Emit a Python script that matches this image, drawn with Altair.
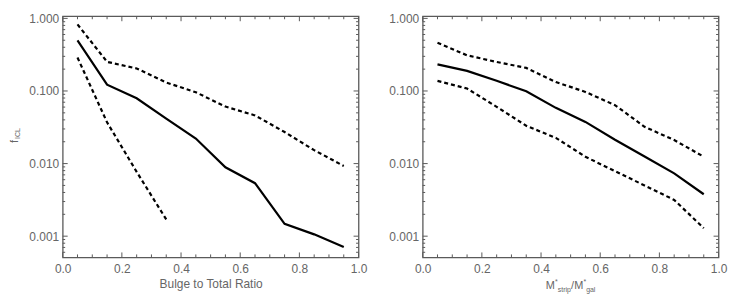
import altair as alt
import pandas as pd

# ---- data ----
x_bins = [0.05, 0.15, 0.25, 0.35, 0.45, 0.55, 0.65, 0.75, 0.85, 0.95]

# Left panel: f_ICL vs bulge-to-total ratio
left_median = [0.499, 0.122, 0.0794, 0.0415, 0.0221, 0.0089, 0.00537, 0.00148, 0.00106, 0.00071]
left_upper = [0.826, 0.252, 0.204, 0.131, 0.096, 0.061, 0.0461, 0.0272, 0.0153, 0.00927]
left_lower_x = [0.05, 0.15, 0.25, 0.35]
left_lower = [0.289, 0.037, 0.0077, 0.0017]

# Right panel: f_ICL vs M*strip/M*gal
right_median = [0.233, 0.189, 0.138, 0.0994, 0.0586, 0.0375, 0.0213, 0.0125, 0.00733, 0.00378]
right_upper = [0.462, 0.31, 0.251, 0.208, 0.133, 0.097, 0.0638, 0.0321, 0.0211, 0.01244]
right_lower = [0.138, 0.108, 0.0605, 0.0332, 0.0226, 0.0124, 0.00787, 0.00499, 0.00316, 0.00129]

# axis ticks
x_major = [0.0, 0.2, 0.4, 0.6, 0.8, 1.0]
x_minor = [0.05, 0.1, 0.15, 0.25, 0.3, 0.35, 0.45, 0.5, 0.55, 0.65, 0.7, 0.75,
           0.85, 0.9, 0.95]
y_major = [0.001, 0.01, 0.1, 1.0]
y_minor = [0.0006, 0.0007, 0.0008, 0.0009,
           0.002, 0.003, 0.004, 0.005, 0.006, 0.007, 0.008, 0.009,
           0.02, 0.03, 0.04, 0.05, 0.06, 0.07, 0.08, 0.09,
           0.2, 0.3, 0.4, 0.5, 0.6, 0.7, 0.8, 0.9]

W = 297.5
H = 242.5
GRAY = "#5a5a5a"
TXT = "#666666"
FONT = "Liberation Sans"

xscale = alt.Scale(domain=[0, 1], nice=False, zero=False)
yscale = alt.Scale(type="log", domain=[0.00051, 1.07], nice=False)


def xaxis(title=None):
    kw = dict(values=x_major, format=".1f", ticks=False, domain=False, grid=False,
              labelFont=FONT, labelFontSize=12, labelColor=TXT, labelPadding=6,
              labelFlush=False)
    if title:
        kw.update(title=title, titleFont=FONT, titleFontSize=12, titleColor=TXT,
                  titleFontWeight="normal", titlePadding=4)
    else:
        kw.update(title=None)
    return alt.Axis(**kw)


yaxis = alt.Axis(values=y_major, format=".3f", ticks=False, domain=False, grid=False,
                 labelFont=FONT, labelFontSize=12, labelColor=TXT, labelPadding=4,
                 title=None, labelFlush=False)


def panel(median, upper, lower_x, lower, xtitle):
    med_df = pd.DataFrame({"x": x_bins, "y": median})
    dash_df = pd.concat([
        pd.DataFrame({"x": x_bins, "y": upper, "s": "upper"}),
        pd.DataFrame({"x": lower_x, "y": lower, "s": "lower"}),
    ])
    solid = alt.Chart(med_df).mark_line(color="black", strokeWidth=2.2).encode(
        x=alt.X("x:Q", scale=xscale, axis=xaxis(xtitle)),
        y=alt.Y("y:Q", scale=yscale, axis=yaxis),
    )
    dashed = alt.Chart(dash_df).mark_line(color="black", strokeWidth=2.2,
                                           strokeDash=[4, 3]).encode(
        x=alt.X("x:Q", scale=xscale),
        y=alt.Y("y:Q", scale=yscale),
        detail="s:N",
    )
    layers = [solid, dashed]
    for vals, ln in ((x_major, 5), (x_minor, 3)):
        d = pd.DataFrame({"t": vals})
        layers.append(alt.Chart(d).mark_rule(color=GRAY, strokeWidth=1).encode(
            x=alt.X("t:Q", scale=xscale), y=alt.value(H), y2=alt.value(H - ln)))
        layers.append(alt.Chart(d).mark_rule(color=GRAY, strokeWidth=1).encode(
            x=alt.X("t:Q", scale=xscale), y=alt.value(0), y2=alt.value(ln)))
    for vals, ln in ((y_major, 5), (y_minor, 2.5)):
        d = pd.DataFrame({"t": vals})
        layers.append(alt.Chart(d).mark_rule(color=GRAY, strokeWidth=1).encode(
            y=alt.Y("t:Q", scale=yscale), x=alt.value(0), x2=alt.value(ln)))
        layers.append(alt.Chart(d).mark_rule(color=GRAY, strokeWidth=1).encode(
            y=alt.Y("t:Q", scale=yscale), x=alt.value(W), x2=alt.value(W - ln)))
    return layers


# left panel
left_layers = panel(left_median, left_upper, left_lower_x, left_lower,
                    "Bulge to Total Ratio")
ylab = pd.DataFrame({"a": [0]})
left_layers.append(alt.Chart(ylab).mark_text(
    text="f", font=FONT, fontSize=11, color=TXT, angle=270, align="center",
    baseline="middle").encode(x=alt.value(-48), y=alt.value(126)))
left_layers.append(alt.Chart(ylab).mark_text(
    text="ICL", font=FONT, fontSize=7, color=TXT, angle=270, align="center",
    baseline="middle").encode(x=alt.value(-45), y=alt.value(118)))
left = alt.layer(*left_layers).properties(width=W, height=H)

# right panel
right_layers = panel(right_median, right_upper, x_bins, right_lower, None)
x0 = W / 2 - 25
base = H + 32
pieces = [
    ("M", 0.0, 11, base),
    ("*", 9.4, 7, base - 5),
    ("strip", 12.1, 7, base + 2.5),
    ("/", 25.5, 11, base),
    ("M", 28.6, 11, base),
    ("*", 37.9, 7, base - 5),
    ("gal", 40.6, 7, base + 2.5),
]
for txt, dx, fs, by in pieces:
    right_layers.append(alt.Chart(ylab).mark_text(
        text=txt, font=FONT, fontSize=fs, color=TXT, align="left",
        baseline="alphabetic").encode(x=alt.value(x0 + dx), y=alt.value(by)))
right = alt.layer(*right_layers).properties(width=W, height=H)

chart = alt.hconcat(left, right, spacing=20).properties(
    padding={"top": 2.5, "left": 0, "right": 0, "bottom": 0}
).configure_view(stroke=GRAY, strokeWidth=1.3)

chart.save("out.html", embed_options={"renderer": "svg", "actions": False})
